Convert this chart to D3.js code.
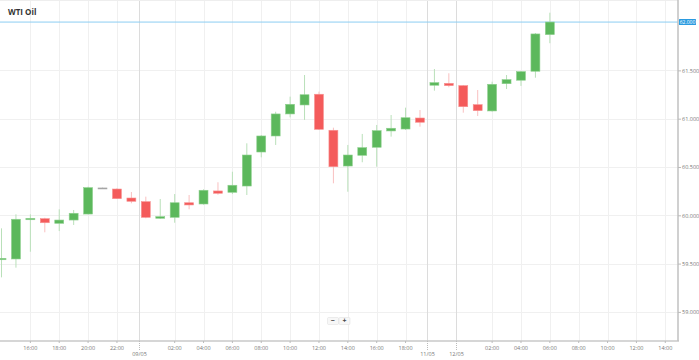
<!DOCTYPE html>
<html lang="en">
<head>
	<meta charset="utf-8">
	<title>WTI Oil</title>
	<script src="https://d3js.org/d3.v7.min.js"></script>
	<style>
		body { margin: 0; background: #fff; }
		svg { display: block; font-family: "Open Sans", Arial, sans-serif; }
		.btn text { font-weight: bold; fill: #444; }
	</style>
</head>
<body>
	<svg id="chart" width="699" height="360"></svg>
	<script type="text/javascript">

		// hourly slots, weekend gap removed (day/hour)
		var slots = [
			"08/05 14:00", "08/05 15:00", "08/05 16:00", "08/05 17:00", "08/05 18:00",
			"08/05 19:00", "08/05 20:00", "08/05 21:00", "08/05 22:00", "08/05 23:00",
			"09/05 00:00", "09/05 01:00", "09/05 02:00", "09/05 03:00", "09/05 04:00",
			"09/05 05:00", "09/05 06:00", "09/05 07:00", "09/05 08:00", "09/05 09:00",
			"09/05 10:00", "09/05 11:00", "09/05 12:00", "09/05 13:00", "09/05 14:00",
			"09/05 15:00", "09/05 16:00", "09/05 17:00", "09/05 18:00", "09/05 19:00",
			"11/05 22:00", "11/05 23:00",
			"12/05 00:00", "12/05 01:00", "12/05 02:00", "12/05 03:00", "12/05 04:00",
			"12/05 05:00", "12/05 06:00", "12/05 07:00", "12/05 08:00", "12/05 09:00",
			"12/05 10:00", "12/05 11:00", "12/05 12:00", "12/05 13:00", "12/05 14:00"
		];

		var opens  = [59.540, 59.548, 59.954, 59.965, 59.917, 59.951, 60.013, 60.283, 60.272, 60.179,
		              60.141, 59.969, 59.979, 60.130, 60.117, 60.252, 60.238, 60.303, 60.655, 60.821,
		              61.049, 61.142, 61.253, 60.880, 60.510, 60.621, 60.704, 60.873, 60.893, 61.007,
		              61.346, 61.366, 61.342, 61.145, 61.080, 61.362, 61.398, 61.491, 61.870];
		var highs  = [59.865, 60.010, 60.010, 59.975, 60.062, 60.055, 60.296, 60.287, 60.280, 60.241,
		              60.193, 60.169, 60.220, 60.210, 60.269, 60.342, 60.451, 60.745, 60.831, 61.072,
		              61.228, 61.452, 61.280, 60.907, 60.728, 60.842, 60.935, 61.038, 61.114, 61.090,
		              61.514, 61.470, 61.349, 61.297, 61.383, 61.452, 61.494, 61.887, 62.097];
		var lows   = [59.358, 59.458, 59.623, 59.824, 59.837, 59.900, 60.010, 60.280, 60.169, 60.124,
		              59.969, 59.962, 59.923, 60.062, 60.110, 60.213, 60.220, 60.210, 60.600, 60.728,
		              61.014, 60.987, 60.883, 60.331, 60.244, 60.549, 60.503, 60.814, 60.883, 60.917,
		              61.290, 61.325, 61.062, 61.028, 61.072, 61.307, 61.339, 61.424, 61.781];
		var closes = [59.555, 59.959, 59.969, 59.923, 59.951, 60.021, 60.286, 60.283, 60.172, 60.145,
		              59.979, 59.986, 60.130, 60.107, 60.259, 60.228, 60.311, 60.624, 60.821, 61.049,
		              61.149, 61.248, 60.890, 60.503, 60.624, 60.700, 60.876, 60.901, 61.010, 60.963,
		              61.373, 61.342, 61.124, 61.083, 61.356, 61.404, 61.487, 61.877, 62.000];

		var priceTicks = [59.0, 59.5, 60.0, 60.5, 61.0, 61.5];

		var svg = d3.select("#chart");
		var plotL = 0, plotR = 678, plotT = 1, plotB = 341;

		var x = d3.scaleBand().domain(slots).range([-5.7, 672.5]).padding(0);
		var y = d3.scaleLinear().domain([58.699, 62.218]).range([plotB, plotT]);
		var bw = x.bandwidth() * 0.62;

		var candles = opens.map(function(o, i) {
			return { slot: slots[i], o: o, h: highs[i], l: lows[i], c: closes[i] };
		});

		var day = function(s) { return s.slice(0, 5); };
		var hour = function(s) { return +s.slice(6, 8); };

		// first slot of each day -> date tick, even hours -> time tick
		var dateTicks = slots.filter(function(s, i) {
			return i > 0 && day(s) !== day(slots[i - 1]);
		});
		var timeTicks = slots.filter(function(s, i) {
			return i > 0 && day(s) === day(slots[i - 1]) && hour(s) % 2 === 0;
		});

		var grid = svg.append("g");
		grid.append("line").attr("x1", plotL).attr("x2", plotR).attr("y1", 0.5).attr("y2", 0.5)
			.attr("stroke", "#eee");
		grid.selectAll(".hg").data(priceTicks).enter().append("line")
			.attr("x1", plotL).attr("x2", plotR)
			.attr("y1", function(d) { return Math.round(y(d)) + 0.5; })
			.attr("y2", function(d) { return Math.round(y(d)) + 0.5; })
			.attr("stroke", "#f0f0f0");
		grid.selectAll(".vg").data(timeTicks).enter().append("line")
			.attr("x1", function(d) { return Math.round(x(d) + x.bandwidth() / 2) + 0.5; })
			.attr("x2", function(d) { return Math.round(x(d) + x.bandwidth() / 2) + 0.5; })
			.attr("y1", plotT).attr("y2", plotB)
			.attr("stroke", "#f0f0f0");
		grid.selectAll(".dg").data(dateTicks).enter().append("line")
			.attr("x1", function(d) { return Math.round(x(d)) + 0.5; })
			.attr("x2", function(d) { return Math.round(x(d)) + 0.5; })
			.attr("y1", plotT).attr("y2", plotB)
			.attr("stroke", "#dcdcdc");

		// last price line
		var last = closes[closes.length - 1];
		svg.append("line").attr("x1", plotL).attr("x2", plotR)
			.attr("y1", y(last)).attr("y2", y(last))
			.attr("stroke", "#8ccdf2").attr("stroke-width", 1);

		var colour = function(d) {
			if (d.c > d.o) return { body: "#5cb85c", edge: "#8fd08f", wick: "#b9e0b9" };
			if (d.c < d.o) return { body: "#f45b5b", edge: "#f79292", wick: "#f9c0c0" };
			return { body: "#999", edge: "#aaa", wick: "#ccc" };
		};

		var node = svg.selectAll(".candle").data(candles).enter().append("g")
			.attr("class", "candle")
			.attr("transform", function(d) { return "translate(" + (x(d.slot) + x.bandwidth() / 2) + ",0)"; });

		node.append("line")
			.attr("y1", function(d) { return y(d.h); })
			.attr("y2", function(d) { return y(d.l); })
			.attr("stroke", function(d) { return colour(d).wick; })
			.attr("stroke-width", 1);

		node.append("rect")
			.attr("x", -bw / 2).attr("width", bw)
			.attr("y", function(d) { return y(Math.max(d.o, d.c)); })
			.attr("height", function(d) { return Math.max(1, Math.abs(y(d.o) - y(d.c))); })
			.attr("fill", function(d) { return colour(d).body; })
			.attr("stroke", function(d) { return colour(d).edge; })
			.attr("stroke-width", 0.6);

		// axes
		svg.append("line").attr("x1", plotL).attr("x2", plotR + 1).attr("y1", plotB).attr("y2", plotB)
			.attr("stroke", "#c8c8c8").attr("stroke-width", 1.5);
		svg.append("line").attr("x1", plotR).attr("x2", plotR).attr("y1", 0).attr("y2", plotB)
			.attr("stroke", "#c0c0c0").attr("stroke-width", 1.5);

		var yAxis = svg.append("g")
			.attr("transform", "translate(" + plotR + ",0)")
			.call(d3.axisRight(y).tickValues(priceTicks).tickFormat(d3.format(".3f")).tickSize(3).tickPadding(1));
		yAxis.select(".domain").remove();
		yAxis.selectAll("line").attr("stroke", "#bbb");
		yAxis.selectAll("text").attr("fill", "#777").style("font-size", "5.5px").style("font-family", "Open Sans, Arial, sans-serif");

		var xAxis = svg.append("g")
			.attr("transform", "translate(0," + plotB + ")")
			.call(d3.axisBottom(x).tickValues(timeTicks).tickFormat(function(d) { return d.slice(6); })
				.tickSize(2).tickPadding(3));
		xAxis.select(".domain").remove();
		xAxis.selectAll("line").attr("stroke", "#bbb");
		xAxis.selectAll("text").attr("fill", "#777").style("font-size", "5.5px").style("font-family", "Open Sans, Arial, sans-serif");

		var dl = svg.append("g").selectAll("g").data(dateTicks).enter().append("g")
			.attr("transform", function(d) { return "translate(" + (Math.round(x(d)) + 0.5) + "," + plotB + ")"; });
		dl.append("line").attr("y1", 0).attr("y2", 9)
			.attr("stroke", "#bbb").attr("stroke-dasharray", "1,1");
		dl.append("text").attr("y", 15).attr("text-anchor", "middle")
			.attr("fill", "#777").style("font-size", "5.5px")
			.text(function(d) { return day(d); });

		// last price label
		var lp = svg.append("g").attr("transform", "translate(" + (plotR + 1) + "," + y(last) + ")");
		lp.append("rect").attr("x", 0).attr("y", -3).attr("width", 17).attr("height", 6)
			.attr("rx", 0.5).attr("fill", "#2b9be0");
		lp.append("text").attr("x", 8.5).attr("y", 1.9).attr("text-anchor", "middle")
			.attr("fill", "#fff").style("font-size", "5px").text(d3.format(".3f")(last));

		// title
		svg.append("text").attr("x", 8).attr("y", 15.3)
			.attr("fill", "#333").style("font-size", "8px").style("font-weight", "bold")
			.text("WTI Oil");

		// zoom buttons
		var btns = svg.append("g").attr("class", "btn").attr("transform", "translate(327.5,317.5)");
		btns.selectAll("g").data(["\u2212", "+"]).enter().append("g")
			.attr("transform", function(d, i) { return "translate(" + (i * 11.5) + ",0)"; })
			.each(function(d) {
				var g = d3.select(this);
				g.append("rect").attr("width", 11).attr("height", 7).attr("rx", 1)
					.attr("fill", "#f7f7f7").attr("stroke", "#e2e2e2").attr("stroke-width", 0.6);
				g.append("text").attr("x", 5.5).attr("y", 5.8).attr("text-anchor", "middle")
					.style("font-size", "7px").text(d);
			});
	</script>
</body>
</html>
